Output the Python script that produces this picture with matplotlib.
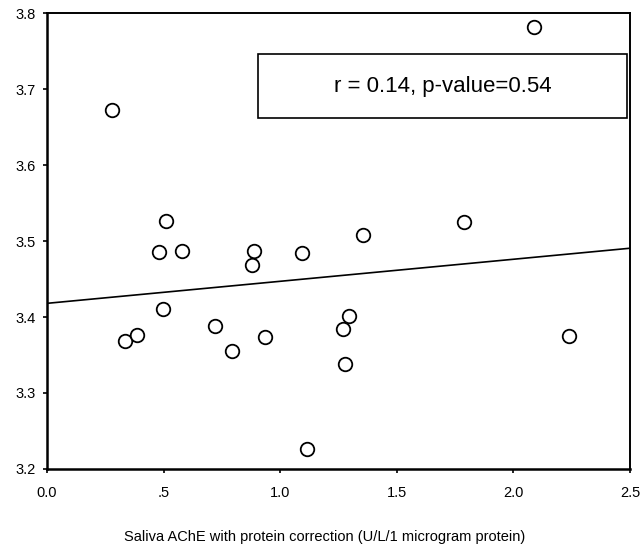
"""
    Scatter of saliva AChE vs. y value, with fitted line.
"""

import matplotlib
matplotlib.use("Agg")
import matplotlib.pyplot as plt
from matplotlib.patches import Rectangle
import numpy as np

plt.rcParams['font.family'] = ['Liberation Sans', 'DejaVu Sans']

# points
ache_x = [0.28, 0.334, 0.386, 0.480, 0.51, 0.497, 0.579, 0.720, 0.793, 0.935, 0.886, 0.879,
          1.093, 1.115, 1.269, 1.295, 1.28, 1.355, 1.788, 2.09, 2.24]
value_y = [3.672, 3.368, 3.376, 3.486, 3.526, 3.411, 3.487, 3.388, 3.355, 3.374, 3.487, 3.468,
           3.484, 3.226, 3.384, 3.401, 3.338, 3.508, 3.525, 3.782, 3.375]

# fitted line
fit_intercept = 3.418
fit_slope = 0.029

x_ticks = [0.0, 0.5, 1.0, 1.5, 2.0, 2.5]
x_tick_labels = ["0.0", ".5", "1.0", "1.5", "2.0", "2.5"]
y_ticks = [3.2, 3.3, 3.4, 3.5, 3.6, 3.7, 3.8]
y_tick_labels = ["3.2", "3.3", "3.4", "3.5", "3.6", "3.7", "3.8"]

stats_text = "r = 0.14, p-value=0.54"
x_label = "Saliva AChE with protein correction (U/L/1 microgram protein)"

fig = plt.figure(figsize=(6.42, 5.56), dpi=100)
ax = fig.add_axes([0.0732, 0.1565, 0.908, 0.820])

ax.scatter(ache_x, value_y, s=95, facecolors="white", edgecolors="black",
           linewidths=1.3, zorder=3, clip_on=False)

line_x = np.array([0.0, 2.5])
ax.plot(line_x, fit_intercept + fit_slope * line_x, color="black", lw=1.2, zorder=2)

ax.set_xlim(0, 2.5)
ax.set_ylim(3.2, 3.8)
ax.set_xticks(x_ticks)
ax.set_xticklabels(x_tick_labels)
ax.set_yticks(y_ticks)
ax.set_yticklabels(y_tick_labels)
ax.tick_params(direction="out", length=3, width=1.2, labelsize=10.5)
ax.tick_params(axis="x", pad=9)
ax.tick_params(axis="y", pad=5)

for side in ["left", "bottom"]:
    ax.spines[side].set_linewidth(1.8)
for side in ["top", "right"]:
    ax.spines[side].set_linewidth(1.4)

# the stats box
ax.add_patch(Rectangle((0.362, 0.770), 0.633, 0.140, transform=ax.transAxes,
                       facecolor="white", edgecolor="black", lw=1.2, zorder=4))
ax.text(0.6785, 0.840, stats_text, transform=ax.transAxes, ha="center", va="center",
        fontsize=16, zorder=5)

fig.text(0.506, 0.034, x_label, ha="center", va="center", fontsize=10.5)

fig.savefig("out.png", dpi=100)
